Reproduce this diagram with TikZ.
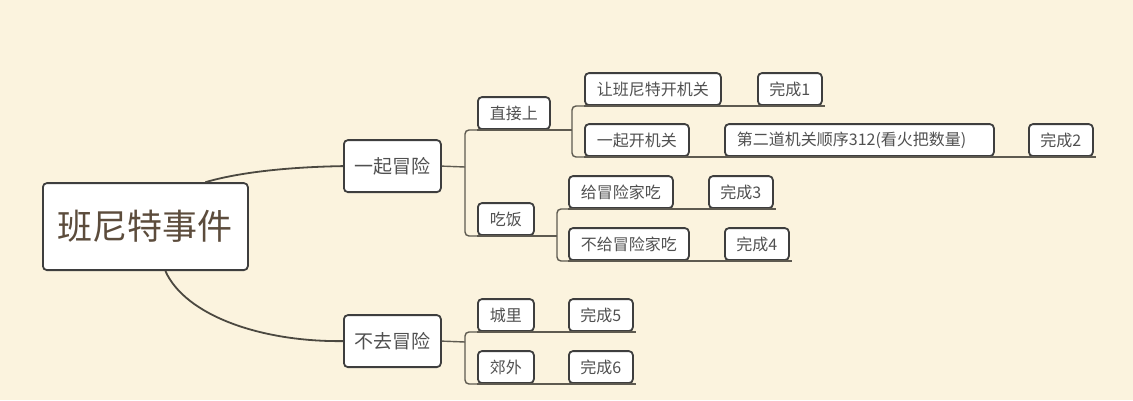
\documentclass[tikz,border=0pt]{standalone}
\usepackage{fontspec}
\setmainfont{Noto Sans CJK SC}
\usetikzlibrary{positioning}
\definecolor{bgcream}{HTML}{FBF3DE}
\definecolor{boxline}{HTML}{3E3E3E}
\definecolor{linkgray}{HTML}{5E5A50}
\definecolor{textgray}{HTML}{505050}
\definecolor{roottext}{HTML}{5C4C3C}

\begin{document}
\begin{tikzpicture}[x=1pt, y=-1pt,
		  % Define the style of all boxes
		  box/.style={draw=boxline, fill=white, line width=1.8pt, rounded corners=4pt, anchor=south west, text=textgray},
		  % Define the style of the central topic
		  topic/.style={box, minimum height=87pt, inner xsep=15pt, font=\fontsize{35}{40}\selectfont, text=roottext},
		  % Define the style of the main branches
		  branch/.style={box, minimum height=52pt, inner xsep=10.5pt, font=\fontsize{19}{23}\selectfont},
		  % Define the style of the small boxes
		  leaf/.style={box, minimum height=32pt, inner xsep=12pt, font=\fontsize{16}{19}\selectfont},
		  % Define the style of the done boxes
		  done/.style={leaf, inner xsep=8pt, minimum width=64pt},
		  % Define the style of the curved lines from the topic
		  curve/.style={draw=linkgray!80!black, line width=1.8pt},
		  % Define the style of the underline connectors
		  link/.style={draw=linkgray, line width=1.4pt},
		  % Define the style of the brackets
		  bracket/.style={link, rounded corners=4pt}
		  ]

		  % background
		  \fill[bgcream] (0,0) rectangle (1133,400);
		  \useasboundingbox (0,0) rectangle (1133,400);

		  % Central topic and branches
		  \node[topic] (root) at (42,271) {班尼特事件};
		  \node[branch] (together) at (343,193) {一起冒险};
		  \node[branch] (stay) at (343,368) {不去冒险};

		  % Second level
		  \node[leaf] (direct) at (477,130) {直接上};
		  \node[leaf] (eat) at (477,236) {吃饭};
		  \node[leaf] (city) at (477,332) {城里};
		  \node[leaf] (suburb) at (477,384) {郊外};

		  % Third level
		  \node[leaf] (letbennett) at (584,106) {让班尼特开机关};
		  \node[leaf] (bothswitch) at (584,157) {一起开机关};
		  \node[leaf, text width=245pt, align=left] (order) at (724,157) {第二道机关顺序312(看火把数量)};
		  \node[leaf] (feed) at (568,209) {给冒险家吃};
		  \node[leaf] (nofeed) at (568,261) {不给冒险家吃};

		  % Done nodes
		  \foreach \i/\x/\y in {1/757/106, 2/1028/157, 3/708/209, 4/724/261, 5/568/332, 6/568/384} {
		    \node[done] (done\i) at (\x,\y) {完成\i};
		  }

		  % Bracket points
		  \coordinate (fork1) at (465,167);
		  \coordinate (fork2) at (465,342);
		  \coordinate (fork3) at (572,130);
		  \coordinate (fork4) at (557,236);

		  % Curves from the topic
		  \draw[curve] ([xshift=60pt]root.north) .. controls (240,172) and (290,167) .. (together.west);
		  \draw[curve] ([xshift=20pt]root.south) .. controls (185,315) and (260,342) .. (stay.west);

		  % Brackets
		  \draw[link] (together.east) -- (fork1);
		  \draw[bracket] (direct.south west) -| (fork1) |- (eat.south west);
		  \draw[link] (stay.east) -- (fork2);
		  \draw[bracket] (city.south west) -| (fork2) |- (suburb.south west);
		  \draw[bracket] (letbennett.south west) -| (fork3) |- (bothswitch.south west);
		  \draw[bracket] (feed.south west) -| (fork4) |- (nofeed.south west);

		  % Underlines
		  \draw[link] (direct.south west) -- (fork3);
		  \draw[link] (eat.south west) -- (fork4);
		  \draw[link] (letbennett.south west) -- ([xshift=2pt]done1.south east);
		  \draw[link] (bothswitch.south west) -- ([xshift=2pt]done2.south east);
		  \draw[link] (feed.south west) -- ([xshift=2pt]done3.south east);
		  \draw[link] (nofeed.south west) -- ([xshift=2pt]done4.south east);
		  \draw[link] (city.south west) -- ([xshift=2pt]done5.south east);
		  \draw[link] (suburb.south west) -- ([xshift=2pt]done6.south east);
    \end{tikzpicture}
\end{document}
